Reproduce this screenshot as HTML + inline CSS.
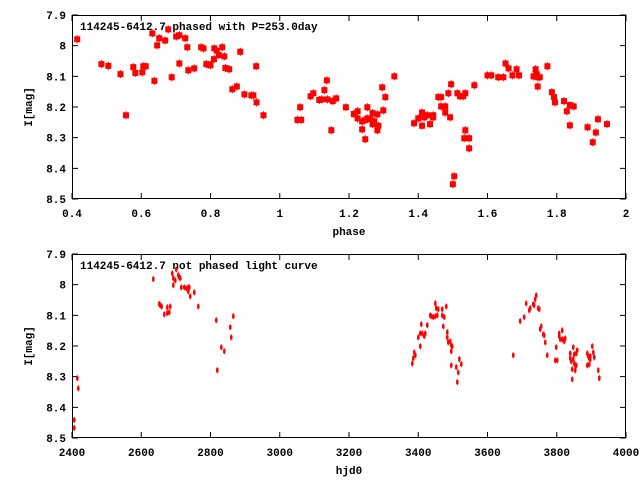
<!DOCTYPE html>
<html><head><meta charset="utf-8"><style>
html,body{margin:0;padding:0;background:#fff}
svg{display:block}
text{font-family:"Liberation Mono","DejaVu Sans Mono",monospace;font-weight:bold;font-size:11px;fill:#000}
</style></head><body>
<svg id="c" width="640" height="480" xmlns="http://www.w3.org/2000/svg"></svg>
<script>
const phaseX=[0.415,0.485,0.505,0.54,0.556,0.577,0.583,0.603,0.606,0.613,0.638,0.632,0.646,0.652,0.669,0.678,0.688,0.701,0.71,0.71,0.727,0.733,0.736,0.753,0.773,0.78,0.788,0.795,0.8,0.81,0.811,0.818,0.824,0.834,0.84,0.843,0.854,0.863,0.876,0.886,0.898,0.918,0.924,0.933,0.932,0.953,1.051,1.062,1.059,1.089,1.097,1.114,1.121,1.129,1.136,1.138,1.149,1.153,1.163,1.191,1.214,1.225,1.225,1.238,1.238,1.247,1.247,1.253,1.253,1.262,1.268,1.268,1.273,1.282,1.282,1.285,1.296,1.299,1.305,1.331,1.388,1.4,1.411,1.411,1.417,1.426,1.434,1.443,1.443,1.458,1.466,1.466,1.478,1.478,1.487,1.492,1.495,1.5,1.504,1.513,1.521,1.53,1.536,1.536,1.533,1.547,1.547,1.562,1.6,1.611,1.631,1.646,1.652,1.661,1.672,1.684,1.691,1.733,1.739,1.742,1.745,1.751,1.745,1.773,1.786,1.792,1.795,1.821,1.829,1.838,1.838,1.849,1.889,1.904,1.913,1.919,1.945];
const phaseMag=[7.979,8.06,8.066,8.093,8.227,8.07,8.089,8.087,8.067,8.067,8.115,7.96,7.999,7.976,7.983,7.947,8.103,7.97,7.966,8.058,7.976,8.005,8.08,8.074,8.005,8.009,8.06,8.062,8.064,8.044,8.009,8.016,8.031,8.005,8.035,8.073,8.077,8.142,8.133,8.02,8.159,8.162,8.162,8.185,8.067,8.227,8.242,8.242,8.201,8.165,8.155,8.177,8.175,8.145,8.113,8.175,8.276,8.181,8.172,8.201,8.223,8.214,8.237,8.247,8.273,8.305,8.243,8.201,8.237,8.24,8.22,8.256,8.247,8.224,8.276,8.261,8.136,8.211,8.168,8.1,8.253,8.237,8.261,8.218,8.234,8.227,8.256,8.234,8.227,8.168,8.168,8.198,8.198,8.218,8.155,8.234,8.126,8.452,8.426,8.155,8.165,8.165,8.155,8.276,8.302,8.302,8.335,8.129,8.097,8.097,8.103,8.103,8.058,8.074,8.097,8.077,8.097,8.1,8.077,8.093,8.103,8.103,8.133,8.067,8.152,8.168,8.185,8.181,8.214,8.194,8.26,8.198,8.266,8.315,8.283,8.24,8.256];
const hjd=[2406.7,2406.7,2415.4,2418.3,2634.8,2652.1,2655,2659,2666.6,2675.2,2675.2,2681,2683.9,2689.7,2692.6,2692.6,2698.3,2701.2,2707,2709.9,2712.8,2715.7,2724.3,2730.1,2735.9,2735.9,2738.8,2741.6,2753.2,2764.8,2816.8,2819.6,2831.2,2839.8,2857.2,2860,2865.9,3382.8,3385.7,3388.6,3391.5,3400,3405.9,3408.8,3405.9,3411.6,3417.4,3420.3,3426.1,3434.8,3437.7,3443.4,3449.2,3452.1,3457.8,3449.2,3455,3469.4,3469.4,3475.2,3472.3,3481,3483.9,3483.9,3486.8,3492.5,3495.4,3498.3,3495.4,3495.4,3509.9,3512.8,3515.7,3518.6,3524.4,3674.3,3694.5,3706,3711.8,3720.5,3723.4,3732,3735,3737.8,3740.7,3746.5,3749.4,3752.3,3755.2,3761,3763.9,3766.8,3772.5,3798.5,3795.6,3801.4,3807.2,3807.2,3810.1,3815.9,3815.9,3818.8,3821.7,3824.5,3839,3839,3841.9,3844.8,3844.8,3847.7,3847.7,3850.6,3850.6,3853.5,3853.5,3856.4,3856.4,3859.3,3888.2,3888.2,3891.1,3894,3894,3896.9,3896.9,3902.7,3905.6,3908.5,3920,3922.9];
const hjdMag=[8.441,8.467,8.305,8.338,7.982,8.063,8.067,8.071,8.097,8.074,8.093,8.09,8.071,7.963,7.979,8.002,7.986,7.95,7.969,7.976,7.979,8.009,8.009,8.012,8.009,8.022,8.009,8.038,8.025,8.071,8.116,8.279,8.204,8.217,8.139,8.172,8.103,8.257,8.24,8.221,8.23,8.172,8.201,8.129,8.159,8.159,8.168,8.159,8.132,8.1,8.103,8.106,8.061,8.077,8.08,8.103,8.1,8.08,8.1,8.106,8.136,8.071,8.155,8.172,8.188,8.185,8.198,8.201,8.217,8.263,8.269,8.318,8.286,8.243,8.259,8.23,8.119,8.106,8.061,8.084,8.077,8.064,8.067,8.048,8.035,8.077,8.08,8.145,8.136,8.162,8.165,8.188,8.23,8.204,8.247,8.247,8.159,8.168,8.178,8.149,8.178,8.181,8.185,8.175,8.224,8.24,8.25,8.276,8.309,8.204,8.243,8.227,8.257,8.263,8.279,8.224,8.263,8.214,8.224,8.263,8.233,8.26,8.24,8.233,8.243,8.201,8.221,8.237,8.279,8.305];
const yTicks=["7.9","8","8.1","8.2","8.3","8.4","8.5"];
const yTickVals=[7.9,8.0,8.1,8.2,8.3,8.4,8.5];
const phaseTicks=["0.4","0.6","0.8","1","1.2","1.4","1.6","1.8","2"];
const phaseTickVals=[0.4,0.6,0.8,1.0,1.2,1.4,1.6,1.8,2.0];
const hjdTicks=["2400","2600","2800","3000","3200","3400","3600","3800","4000"];
const hjdTickVals=[2400,2600,2800,3000,3200,3400,3600,3800,4000];

const NS="http://www.w3.org/2000/svg";
const svg=document.getElementById('c');
function mk(tag,attrs,parent){const e=document.createElementNS(NS,tag);for(const k in attrs)e.setAttribute(k,attrs[k]);(parent||svg).appendChild(e);return e;}

function panel(opt){
  const L=72,R=626,T=opt.top,B=opt.top+184;
  const g=mk('g',{});
  
  
  const sx=v=>L+(v-opt.x0)/(opt.x1-opt.x0)*(R-L);
  const sy=v=>T+(v-7.9)/0.6*(B-T);
  yTickVals.forEach((v,i)=>{
    const y=sy(v);
    const tk=mk('path',{d:`M${L} ${y}h6M${R} ${y}h-6`,stroke:'#000','stroke-width':1,fill:'none'},g);
    
    
    const t=mk('text',{x:L-6,y:y+4,'text-anchor':'end'},g);
    
    
    t.textContent=yTicks[i];
  });
  opt.tv.forEach((v,i)=>{
    const x=sx(v);
    const tk=mk('path',{d:`M${x} ${B}v-6M${x} ${T}v6`,stroke:'#000','stroke-width':1,fill:'none'},g);
    
    
    const t=mk('text',{x:x,y:B+18,'text-anchor':'middle'},g);
    
    
    t.textContent=opt.tl[i];
  });
  const fr=mk('rect',{x:L+0.5,y:T+0.5,width:R-L-1,height:B-T-1,fill:'none',stroke:'#000','stroke-width':1},g);
  
  
  const xl=mk('text',{x:(L+R)/2,y:B+36,'text-anchor':'middle'},g);
  
  
  xl.textContent=opt.xlabel;
  const yl=mk('text',{x:0,y:0,'text-anchor':'middle',transform:`translate(32 ${(T+B)/2}) rotate(-90)`},g);
  
  
  yl.textContent='I[mag]';
  const ti=mk('text',{x:80,y:T+15},g);
  
  
  ti.textContent=opt.title;
  const pg=mk('g',{fill:'#f00',stroke:'#f00'},g);
  
  
  opt.xs.forEach((xv,i)=>{
    const x=sx(xv),y=sy(opt.ys[i]);
    const p=mk('path',{d:`M${x-opt.w/2} ${y-opt.h/2}h${opt.w}v${opt.h}h${-opt.w}z M${x} ${y-opt.h/2-1.5}v${opt.h+3}`,'stroke-width':1},pg);
    
    
  });
}
panel({name:'phased-panel',top:15,x0:0.4,x1:2.0,tv:phaseTickVals,tl:phaseTicks,xlabel:'phase',title:'114245-6412.7 phased with P=253.0day',xs:phaseX,ys:phaseMag,w:5,h:5});
panel({name:'unphased-panel',top:254,x0:2400,x1:4000,tv:hjdTickVals,tl:hjdTicks,xlabel:'hjd0',title:'114245-6412.7 not phased light curve',xs:hjd,ys:hjdMag,w:1.5,h:3});
</script>
</body></html>
